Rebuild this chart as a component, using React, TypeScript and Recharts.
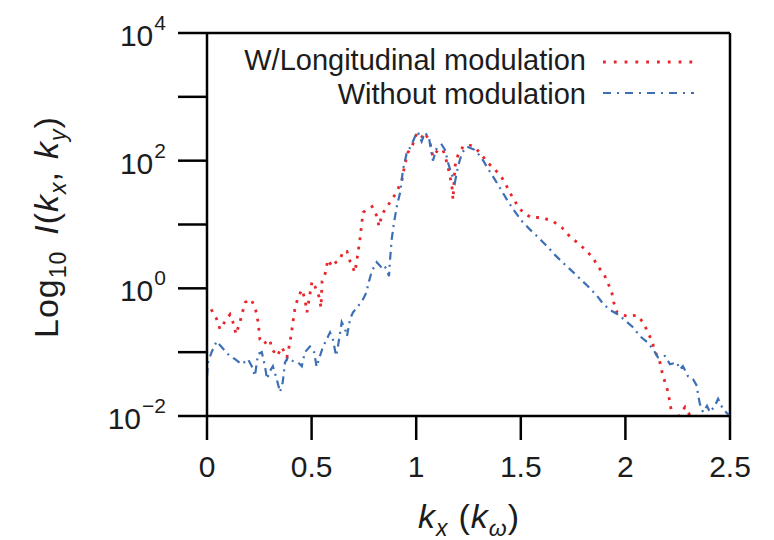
import React from 'react';
import { LineChart, Line, XAxis, YAxis, ReferenceLine } from 'recharts';

// k_x values (in units of k_omega) and log10 intensity for each series
const redK = [0.02,0.046,0.062,0.086,0.11,0.124,0.139,0.158,0.182,0.21,
  0.23,0.244,0.253,0.268,0.3,0.31,0.335,0.358,0.382,0.397,
  0.406,0.42,0.435,0.454,0.468,0.478,0.502,0.516,0.535,0.545,
  0.55,0.564,0.578,0.598,0.617,0.636,0.65,0.669,0.684,0.707,
  0.722,0.731,0.746,0.765,0.789,0.813,0.822,0.837,0.86,0.884,
  0.908,0.932,0.946,0.96,0.98,1.004,1.028,1.042,1.066,1.08,
  1.104,1.128,1.147,1.162,1.171,1.176,1.185,1.2,1.224,1.248,
  1.27,1.305,1.338,1.377,1.41,1.434,1.458,1.482,1.51,1.549,
  1.6,1.654,1.697,1.735,1.769,1.807,1.845,1.869,1.898,1.917,
  1.936,1.945,1.96,2.008,2.055,2.084,2.108,2.127,2.141,2.165,
  2.175,2.189,2.204,2.218,2.227,2.245,2.285,2.31,2.33];
const redLog = [-0.33,-0.48,-0.64,-0.52,-0.41,-0.53,-0.72,-0.52,-0.22,-0.17,
  -0.3,-0.52,-0.8,-0.875,-0.8,-0.95,-1.06,-0.92,-1.08,-0.84,
  -0.64,-0.33,-0.14,-0.02,-0.17,-0.375,0.11,0.03,-0.125,-0.3,
  0.11,0.22,0.45,0.34,0.41,0.45,0.58,0.58,0.42,0.25,
  0.56,0.77,1.19,1.23,1.28,1.125,0.97,1.16,1.28,1.39,
  1.52,1.7,1.94,2.125,2.22,2.44,2.375,2.44,2.28,2.06,
  2.17,2.17,1.97,1.75,1.59,1.39,1.91,2.09,2.22,2.25,
  2.23,2.125,1.98,1.86,1.73,1.59,1.44,1.31,1.19,1.11,
  1.11,1.05,0.95,0.81,0.72,0.61,0.48,0.34,0.22,0.08,
  -0.08,-0.23,-0.375,-0.44,-0.42,-0.53,-0.69,-0.83,-0.98,-1.16,
  -1.31,-1.47,-1.625,-1.89,-2.0,-2.06,-1.86,-2.0,-2.3];

const blueK = [0,0.005,0.022,0.046,0.07,0.1,0.134,0.166,0.196,0.214,
  0.229,0.244,0.262,0.277,0.287,0.3,0.315,0.333,0.349,0.362,
  0.373,0.387,0.411,0.435,0.453,0.468,0.492,0.512,0.524,0.54,
  0.554,0.572,0.588,0.602,0.617,0.626,0.644,0.66,0.669,0.684,
  0.698,0.722,0.746,0.763,0.77,0.788,0.811,0.831,0.841,0.859,
  0.87,0.875,0.883,0.894,0.907,0.923,0.937,0.955,0.974,0.994,
  1.008,1.026,1.042,1.061,1.08,1.098,1.122,1.138,1.152,1.17,
  1.185,1.2,1.219,1.243,1.279,1.312,1.34,1.377,1.41,1.439,
  1.472,1.506,1.544,1.583,1.625,1.664,1.702,1.745,1.783,1.822,
  1.865,1.893,1.927,1.965,2.008,2.036,2.07,2.103,2.132,2.155,
  2.189,2.213,2.246,2.26,2.275,2.299,2.323,2.342,2.347,2.356,
  2.371,2.39,2.404,2.428,2.443,2.462,2.481,2.5];
const blueLog = [-1.375,-1.16,-1.0,-0.83,-0.92,-1.03,-1.11,-1.19,-1.11,-1.22,
  -1.375,-1.03,-1.0,-1.22,-1.42,-1.3,-1.22,-1.42,-1.625,-1.47,
  -1.16,-1.08,-1.14,-1.16,-1.22,-1.0,-0.91,-1.0,-1.23,-1.06,
  -0.92,-0.8,-0.69,-0.8,-1.06,-0.91,-0.53,-0.64,-0.75,-0.48,
  -0.375,-0.28,-0.17,-0.06,0.06,0.27,0.41,0.34,0.375,0.3,
  0.19,0.45,0.77,1.03,1.28,1.5,1.86,2.125,2.22,2.375,
  2.45,2.3,2.44,2.36,2.0,2.2,2.25,2.17,1.97,1.78,
  1.66,1.91,2.125,2.22,2.17,2.05,1.89,1.7,1.52,1.36,
  1.2,1.05,0.92,0.8,0.66,0.52,0.4,0.27,0.15,0.03,
  -0.12,-0.24,-0.34,-0.41,-0.53,-0.61,-0.75,-0.84,-0.95,-1.08,
  -1.06,-1.19,-1.16,-1.27,-1.22,-1.375,-1.42,-1.53,-1.66,-1.81,
  -1.94,-1.84,-1.94,-1.84,-1.73,-1.86,-1.94,-2.0];

const xTicks = [0, 0.5, 1, 1.5, 2, 2.5];
const xTickLabels = ['0', '0.5', '1', '1.5', '2', '2.5'];
const yTicks = [-2, -1, 0, 1, 2, 3, 4];
const yLabelledExps = [-2, 0, 2, 4];
const seriesNames = ['W/Longitudinal modulation', 'Without modulation'];

const RED = '#e8262b';
const BLUE = '#3c6fb6';
const TEXT = '#1c1c1c';
const FONT = '"Liberation Sans", Arial, Helvetica, sans-serif';

const redData = redK.map((k, i) => ({ k, v: redLog[i] }));
const blueData = blueK.map((k, i) => ({ k, v: blueLog[i] }));

const YTick = (props: any) => {
  const { y, payload } = props;
  const v = payload.value;
  if (!yLabelledExps.includes(v)) return <g />;
  const exp = v < 0 ? '\u2212' + Math.abs(v) : String(v);
  return (
    <text x={166} y={y + 13} textAnchor="end" fontSize={30} fill={TEXT} fontFamily={FONT}>
      <tspan>10</tspan>
      <tspan dy={-16} dx={1} fontSize={21}>{exp}</tspan>
    </text>
  );
};

const XTick = (props: any) => {
  const { x, payload } = props;
  const idx = xTicks.indexOf(payload.value);
  const label = idx >= 0 ? xTickLabels[idx] : String(payload.value);
  return (
    <text x={x} y={477} textAnchor="middle" fontSize={30} fill={TEXT} fontFamily={FONT}>
      {label}
    </text>
  );
};

export default function App() {
  return (
    <div style={{ position: 'absolute', left: 0, top: 0, width: 774, height: 540, background: '#fff' }}>
      <LineChart width={774} height={540} margin={{ top: 33, right: 44, left: 0, bottom: 0 }}>
        <XAxis
          type="number"
          dataKey="k"
          domain={[0, 2.5]}
          ticks={xTicks}
          interval={0}
          allowDataOverflow
          height={124}
          tickSize={24}
          tick={<XTick />}
          stroke="#000"
          strokeWidth={2.5}
        />
        <YAxis
          type="number"
          dataKey="v"
          domain={[-2, 4]}
          ticks={yTicks}
          interval={0}
          allowDataOverflow
          width={207}
          tickSize={29}
          tick={<YTick />}
          stroke="#000"
          strokeWidth={2.5}
        />
        <ReferenceLine y={4} stroke="#000" strokeWidth={2.5} />
        <ReferenceLine x={2.5} stroke="#000" strokeWidth={2.5} />
        <Line
          data={redData}
          dataKey="v"
          name={seriesNames[0]}
          type="linear"
          stroke={RED}
          strokeWidth={2.8}
          strokeDasharray="2.8 6.5"
          dot={false}
          isAnimationActive={false}
        />
        <Line
          data={blueData}
          dataKey="v"
          name={seriesNames[1]}
          type="linear"
          stroke={BLUE}
          strokeWidth={2.2}
          strokeDasharray="8 5 2 5"
          dot={false}
          isAnimationActive={false}
        />
      </LineChart>
      <svg
        width={774}
        height={540}
        style={{ position: 'absolute', left: 0, top: 0, pointerEvents: 'none' }}
        fontFamily={FONT}
      >
        <text x={586} y={70} textAnchor="end" fontSize={29} fill={TEXT}>{seriesNames[0]}</text>
        <line x1={603} y1={62} x2={694} y2={62} stroke={RED} strokeWidth={2.8} strokeDasharray="2.8 8" />
        <text x={586} y={104} textAnchor="end" fontSize={29} fill={TEXT}>{seriesNames[1]}</text>
        <line x1={603} y1={93} x2={694} y2={93} stroke={BLUE} strokeWidth={2.2} strokeDasharray="8 6 2 6" />

        <text transform="translate(58,338) rotate(-90)" fontSize={34} fill={TEXT} letterSpacing={1}>
          <tspan>Log</tspan>
          <tspan fontSize={23} dy={8}>10</tspan>
          <tspan dy={-8} dx={16} fontStyle="italic">I</tspan>
          <tspan>(</tspan>
          <tspan fontStyle="italic">k</tspan>
          <tspan fontSize={23} dy={8} fontStyle="italic">x</tspan>
          <tspan dy={-8}>,</tspan>
          <tspan dx={12} fontStyle="italic">k</tspan>
          <tspan fontSize={23} dy={8} fontStyle="italic">y</tspan>
          <tspan dy={-8}>)</tspan>
        </text>

        <text x={418} y={528} fontSize={34} fill={TEXT} letterSpacing={1}>
          <tspan fontStyle="italic">k</tspan>
          <tspan fontSize={23} dy={8} fontStyle="italic">x</tspan>
          <tspan dy={-8} dx={10}>(</tspan>
          <tspan fontStyle="italic">k</tspan>
          <tspan fontSize={23} dy={8} fontStyle="italic">ω</tspan>
          <tspan dy={-8}>)</tspan>
        </text>
      </svg>
    </div>
  );
}
